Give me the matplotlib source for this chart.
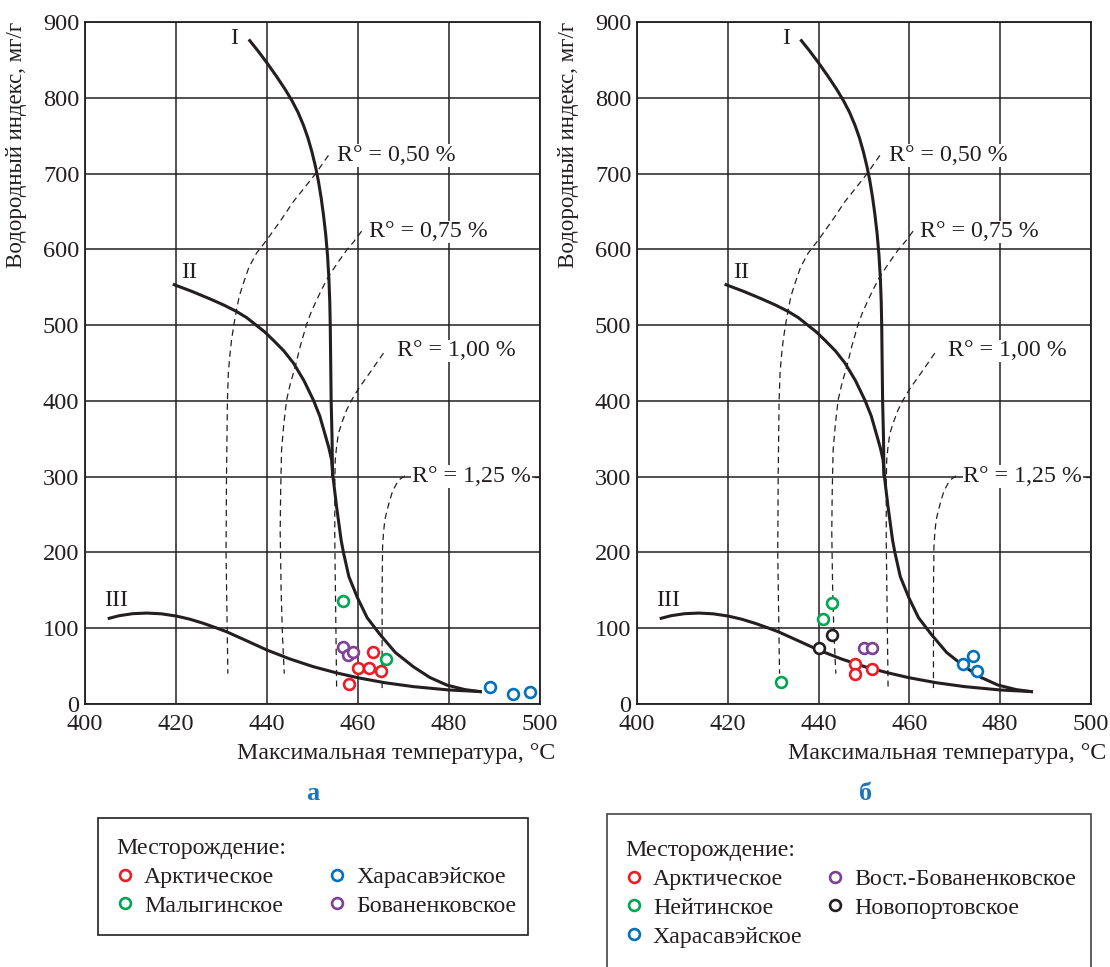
import matplotlib
matplotlib.use("Agg")
import matplotlib.pyplot as plt
from matplotlib.patches import Rectangle

plt.rcParams['font.family'] = ['Liberation Serif', 'DejaVu Serif']

# ---------------- reference curves ----------------
curve_I_T = [436.0, 438.0, 440.0, 442.0, 444.0, 445.5, 446.8, 448.0, 449.0, 449.9, 450.7,
             451.3, 451.9, 452.4, 452.9, 453.3, 453.6, 453.8, 453.9, 454.0, 454.1, 454.3, 454.4]
curve_I_HI = [877, 862, 846, 829, 811, 796, 781, 764, 747, 728, 708,
              690, 668, 646, 620, 592, 562, 530, 500, 450, 400, 350, 300]

curve_II_T = [419.3, 423.5, 427.5, 430.5, 433.3, 435.5, 437.4, 439.5, 441.4, 443.7, 445.8,
              448.1, 450.2, 451.6, 452.7, 453.6, 454.2, 454.5, 454.9, 455.3, 455.8, 456.3,
              456.8, 458.0, 459.9, 462.0, 464.8, 468.2, 472.2, 475.8, 479.5, 483.5, 487.2]
curve_II_HI = [554, 544.5, 534.5, 526.5, 518, 510, 501, 491, 480, 466, 450,
               427, 401, 380, 357, 338, 322, 300, 280, 260, 238, 216,
               200, 168, 140, 114, 92, 68, 49, 35, 25, 19, 16]

curve_III_T = [405.0, 407.5, 410.5, 413.6, 416.8, 420.1, 423.0, 426.0, 428.6, 431.1, 435.5,
               440.0, 445.0, 450.2, 455.0, 459.9, 466.0, 472.2, 480.0, 487.2]
curve_III_HI = [112.6, 116.5, 119.2, 120.0, 119.0, 116.0, 112.0, 106.5, 101.0, 95.4, 83.5,
                71.2, 59.5, 49.2, 41.5, 34.7, 28.0, 22.9, 18.5, 16.3]

# vitrinite reflectance isolines (dashed)
ro050_T = [453.5, 450.7, 448.2, 445.8, 443.0, 439.9, 437.7, 436.0, 434.8, 433.9, 433.3,
           432.7, 432.2, 431.8, 431.5, 431.3, 431.1, 431.0, 431.2, 431.4]
ro050_HI = [724, 700, 681, 663, 638, 612, 595, 576, 555, 538, 520,
            500, 480, 458, 436, 400, 300, 200, 120, 40]
ro075_T = [460.8, 459.2, 457.5, 455.5, 453.5, 452.1, 450.9, 449.7, 448.7, 447.3, 446.2,
           445.1, 444.3, 443.7, 443.2, 443.0, 442.9, 443.1, 443.4, 443.8]
ro075_HI = [624, 611, 599, 582, 564, 548, 533, 517, 501, 472, 445,
            422, 401, 370, 335, 280, 227, 150, 90, 40]
ro100_T = [465.6, 462.7, 460.1, 458.6, 457.5, 456.5, 455.7, 455.3, 455.0, 454.9, 454.9,
           455.1, 455.3]
ro100_HI = [463, 438, 416, 401, 388, 372, 357, 340, 322, 291, 216, 120, 23]
ro125_T = [470.3, 469.3, 468.5, 467.6, 467.0, 466.4, 465.9, 465.6, 465.4, 465.3, 465.3]
ro125_HI = [301, 297, 291, 281, 269, 256, 243, 226, 207, 150, 21]
ro_labels = ['R° = 0,50 %', 'R° = 0,75 %', 'R° = 1,00 %', 'R° = 1,25 %']
ro_label_T = [455.4, 462.4, 468.6, 471.9]
ro_label_HI = [724, 623, 466, 300]

curve_names = ['I', 'II', 'III']
curve_name_T = [432.8, 422.9, 406.8]
curve_name_HI = [878, 570, 136]

# ---------------- samples, panel а ----------------
ark_a_T = [458.1, 459.9, 462.5, 463.4, 465.1]
ark_a_HI = [27, 48, 48, 69, 44]
mal_a_T = [456.6, 466.1]
mal_a_HI = [136, 59]
har_a_T = [489.0, 494.1, 497.9]
har_a_HI = [23, 13, 16]
bov_a_T = [456.6, 457.9, 459.0]
bov_a_HI = [75, 65, 69]

# ---------------- samples, panel б ----------------
ark_b_T = [448.0, 448.0, 451.8]
ark_b_HI = [53, 40, 46]
nei_b_T = [431.7, 441.0, 443.0]
nei_b_HI = [29, 112, 133]
har_b_T = [471.9, 474.0, 474.9]
har_b_HI = [53, 64, 43]
vbov_b_T = [450.0, 451.8]
vbov_b_HI = [74, 74]
nov_b_T = [440.0, 443.0]
nov_b_HI = [74, 91]

x_ticks = [400, 420, 440, 460, 480, 500]
y_ticks = [0, 100, 200, 300, 400, 500, 600, 700, 800, 900]

RED = '#ed1c24'
GREEN = '#00a651'
BLUE = '#0072bc'
PURPLE = '#7f3f98'
BLACK = '#231f20'
LETTER = '#1b75bc'

W, H = 1110, 967
fig = plt.figure(figsize=(W / 100, H / 100), dpi=100)

FS_TICK = 17.6
FS_LAB = 17.2
FS_YLAB = 16.5
FS_LEG = 17.2


def setup_axes(ax):
    ax.set_xlim(400, 500)
    ax.set_ylim(0, 900)
    ax.set_xticks(x_ticks)
    ax.set_yticks(y_ticks)
    ax.grid(True, color=BLACK, lw=1.1)
    ax.set_axisbelow(True)
    for s in ax.spines.values():
        s.set_linewidth(1.3)
        s.set_color(BLACK)
    ax.tick_params(length=0, labelsize=FS_TICK, colors=BLACK)
    ax.tick_params(axis='x', pad=7)
    ax.tick_params(axis='y', pad=4)
    ax.set_xlabel('Максимальная температура, °C', fontsize=FS_LAB, loc='right', color=BLACK)
    ax.xaxis.set_label_coords(1.034, -0.057)
    ax.set_ylabel('Водородный индекс, мг/г', fontsize=FS_YLAB, loc='top', color=BLACK)
    ax.yaxis.set_label_coords(-0.128, 1.0)

    dash = dict(color=BLACK, lw=0.9, ls=(0, (5, 3.5)), zorder=2)
    ax.plot(ro050_T, ro050_HI, **dash)
    ax.plot(ro075_T, ro075_HI, **dash)
    ax.plot(ro100_T, ro100_HI, **dash)
    ax.plot(ro125_T, ro125_HI, **dash)
    for lab, t, h in zip(ro_labels, ro_label_T, ro_label_HI):
        ax.text(t, h, lab, fontsize=FS_LAB, va='center', ha='left', color=BLACK, zorder=3,
                bbox=dict(facecolor='white', edgecolor='none', pad=0.5))
    # short leader after the last label
    ax.plot([498.8, 500], [ro_label_HI[3], ro_label_HI[3]], color=BLACK, lw=0.9, zorder=3)

    solid = dict(color=BLACK, lw=2.2, zorder=4, solid_capstyle='butt', solid_joinstyle='round')
    ax.plot(curve_I_T, curve_I_HI, **solid)
    ax.plot(curve_II_T, curve_II_HI, **solid)
    ax.plot(curve_III_T, curve_III_HI, **solid)
    for lab, t, h in zip(curve_names, curve_name_T, curve_name_HI):
        ax.text(t, h, lab, fontsize=FS_LAB, ha='center', va='center', color=BLACK, zorder=4)


MS = 7.8
MEW = 1.9


def pts(ax, T, HI, color, label):
    return ax.plot(T, HI, ls='none', marker='o', ms=MS, mew=MEW, mec=color, mfc='white',
                   zorder=5, label=label)[0]


ax_a = fig.add_axes([85 / W, 1 - 704 / H, 455 / W, 682 / H])
setup_axes(ax_a)
h1 = pts(ax_a, ark_a_T, ark_a_HI, RED, 'Арктическое')
h2 = pts(ax_a, mal_a_T, mal_a_HI, GREEN, 'Малыгинское')
h3 = pts(ax_a, har_a_T, har_a_HI, BLUE, 'Харасавэйское')
h4 = pts(ax_a, bov_a_T, bov_a_HI, PURPLE, 'Бованенковское')

ax_b = fig.add_axes([637 / W, 1 - 704 / H, 454 / W, 682 / H])
setup_axes(ax_b)
g1 = pts(ax_b, ark_b_T, ark_b_HI, RED, 'Арктическое')
g2 = pts(ax_b, nei_b_T, nei_b_HI, GREEN, 'Нейтинское')
g3 = pts(ax_b, har_b_T, har_b_HI, BLUE, 'Харасавэйское')
g4 = pts(ax_b, vbov_b_T, vbov_b_HI, PURPLE, 'Вост.-Бованенковское')
g5 = pts(ax_b, nov_b_T, nov_b_HI, BLACK, 'Новопортовское')

# panel letters
fig.text(313 / W, 1 - 794 / H, 'а', fontsize=19, fontweight='bold', color=LETTER,
         ha='center', va='center')
fig.text(866 / W, 1 - 794 / H, 'б', fontsize=19, fontweight='bold', color=LETTER,
         ha='center', va='center')

# legend frames
fig.patches.append(Rectangle((98 / W, 1 - 935 / H), (528 - 98) / W, (935 - 818) / H,
                             transform=fig.transFigure, fill=False, ec=BLACK, lw=1.2))
fig.patches.append(Rectangle((607 / W, 1 - 975 / H), (1091 - 607) / W, (975 - 814) / H,
                             transform=fig.transFigure, fill=False, ec='#444444', lw=1.2))

leg_kw = dict(frameon=False, fontsize=FS_LEG, title_fontsize=FS_LEG, ncol=2,
              handlelength=0.75, handletextpad=0.42, labelspacing=0.30, borderpad=0,
              borderaxespad=0, alignment='left', loc='upper left')
leg_a = ax_a.legend(handles=[h1, h2, h3, h4], title='Месторождение:',
                    bbox_to_anchor=(116 / W, 1 - 838 / H), bbox_transform=fig.transFigure,
                    columnspacing=1.9, **leg_kw)
leg_b = ax_b.legend(handles=[g1, g2, g3, g4, g5], title='Месторождение:',
                    bbox_to_anchor=(625 / W, 1 - 840 / H), bbox_transform=fig.transFigure,
                    columnspacing=1.0, **leg_kw)
for leg in (leg_a, leg_b):
    leg.get_title().set_color(BLACK)
    for t in leg.get_texts():
        t.set_color(BLACK)

fig.savefig('out.png', dpi=100, facecolor='white')
